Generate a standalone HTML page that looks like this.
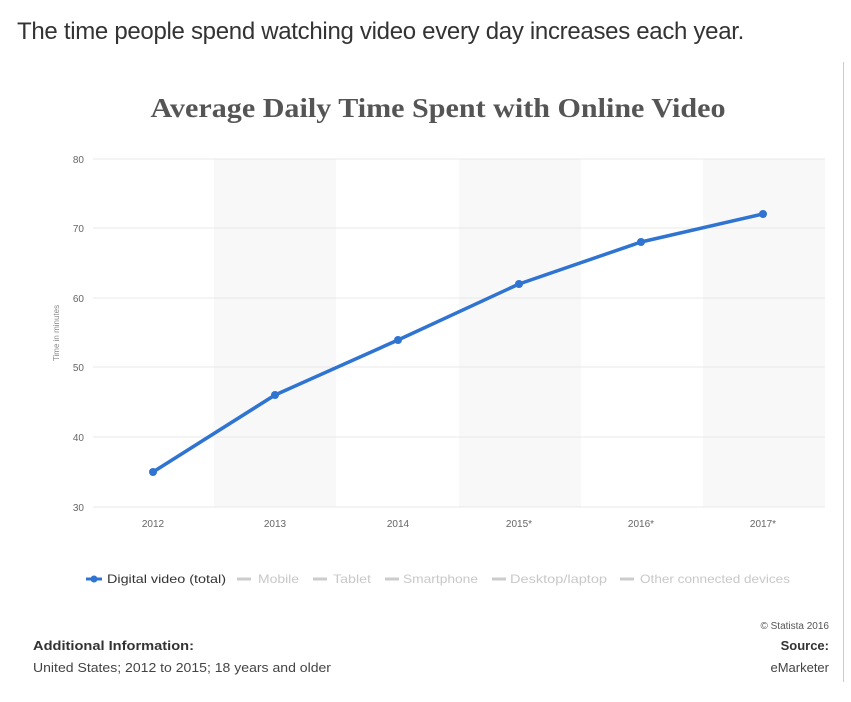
<!DOCTYPE html>
<html><head><style>
body{margin:0;background:#fff;width:851px;height:702px;overflow:hidden;position:relative;font-family:"Liberation Sans",sans-serif}
</style></head><body>
<div style="position:absolute;left:17px;top:18px;font-size:24px;color:#333;letter-spacing:-0.3px">The time people spend watching video every day increases each year.</div>
<div style="position:absolute;left:843px;top:62px;width:1px;height:620px;background:#ccc"></div>
<svg width="851" height="702" style="position:absolute;left:0;top:0">
<text x="438" y="117" text-anchor="middle" font-family="Liberation Serif" font-weight="bold" font-size="27" fill="#555" textLength="575" lengthAdjust="spacingAndGlyphs">Average Daily Time Spent with Online Video</text>
<rect x="214" y="159" width="122" height="348" fill="#f8f8f8"/>
<rect x="459" y="159" width="122" height="348" fill="#f8f8f8"/>
<rect x="703" y="159" width="122" height="348" fill="#f8f8f8"/>
<g stroke="#e8e8e8" stroke-width="1">
<line x1="93" x2="825" y1="159" y2="159"/><line x1="93" x2="825" y1="228" y2="228"/><line x1="93" x2="825" y1="298" y2="298"/><line x1="93" x2="825" y1="367" y2="367"/><line x1="93" x2="825" y1="437" y2="437"/><line x1="93" x2="825" y1="507" y2="507"/>
</g>
<g font-size="10" fill="#666" text-anchor="end">
<text x="84" y="163">80</text><text x="84" y="232">70</text><text x="84" y="302">60</text><text x="84" y="371">50</text><text x="84" y="441">40</text><text x="84" y="511">30</text>
</g>
<text transform="translate(59,333) rotate(-90)" text-anchor="middle" font-size="8" fill="#888">Time in minutes</text>
<g font-size="10" fill="#666" text-anchor="middle">
<text x="153" y="527">2012</text><text x="275" y="527">2013</text><text x="398" y="527">2014</text><text x="519" y="527">2015*</text><text x="641" y="527">2016*</text><text x="763" y="527">2017*</text>
</g>
<polyline points="153,472 275,395 398,340 519,284 641,242 763,214" fill="none" stroke="#2f74d0" stroke-width="3.5" stroke-linejoin="round"/>
<g fill="#2f74d0"><circle cx="153" cy="472" r="4"/><circle cx="275" cy="395" r="4"/><circle cx="398" cy="340" r="4"/><circle cx="519" cy="284" r="4"/><circle cx="641" cy="242" r="4"/><circle cx="763" cy="214" r="4"/></g>
<g font-size="12">
<line x1="86" x2="102" y1="579" y2="579" stroke="#2f74d0" stroke-width="3"/><circle cx="94" cy="579" r="3.5" fill="#2f74d0"/>
<text x="107" y="583" fill="#333" textLength="119" lengthAdjust="spacingAndGlyphs">Digital video (total)</text>
<g stroke="#ccc">
<line x1="237" x2="251" y1="579" y2="579" stroke-width="3"/><line x1="313" x2="327" y1="579" y2="579" stroke-width="3"/><line x1="385" x2="399" y1="579" y2="579" stroke-width="3"/><line x1="492" x2="506" y1="579" y2="579" stroke-width="3"/><line x1="620" x2="634" y1="579" y2="579" stroke-width="3"/>
</g>
<g fill="#c8c8c8"><text x="258" y="583" textLength="41" lengthAdjust="spacingAndGlyphs">Mobile</text><text x="333" y="583" textLength="38" lengthAdjust="spacingAndGlyphs">Tablet</text><text x="403" y="583" textLength="75" lengthAdjust="spacingAndGlyphs">Smartphone</text><text x="510" y="583" textLength="97" lengthAdjust="spacingAndGlyphs">Desktop/laptop</text><text x="640" y="583" textLength="150" lengthAdjust="spacingAndGlyphs">Other connected devices</text></g>
</g>
<text x="829" y="629" text-anchor="end" font-size="10" fill="#555">© Statista 2016</text>
<text x="829" y="650" text-anchor="end" font-size="13" font-weight="bold" fill="#333">Source:</text>
<text x="829" y="672" text-anchor="end" font-size="13" fill="#444">eMarketer</text>
<text x="33" y="650" font-size="13" font-weight="bold" fill="#333" textLength="161" lengthAdjust="spacingAndGlyphs">Additional Information:</text>
<text x="33" y="672" font-size="13" fill="#444" textLength="298" lengthAdjust="spacingAndGlyphs">United States; 2012 to 2015; 18 years and older</text>
</svg>
</body></html>
